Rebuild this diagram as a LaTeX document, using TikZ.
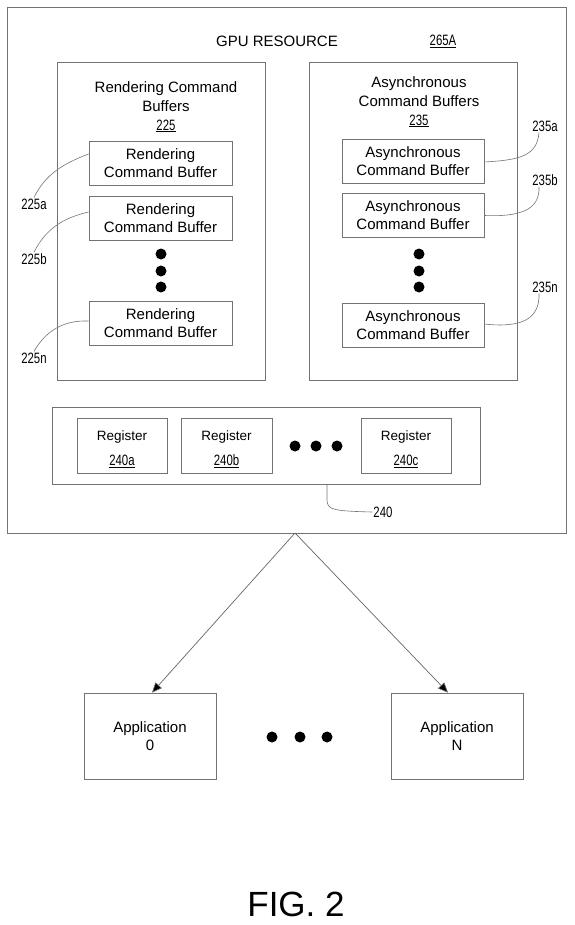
\documentclass[tikz,border=0pt]{standalone}
\usepackage{fontspec}
\setmainfont{Liberation Sans}
\usetikzlibrary{arrows.meta,calc}
\newcommand{\narrow}[1]{\scalebox{0.76}[1]{#1}}
\begin{document}
\begin{tikzpicture}[x=1pt,y=-1pt,
  frame/.style={draw=black!55,line width=0.7pt,inner sep=0pt},
  cbox/.style={frame,align=center,font=\fontsize{15}{18}\selectfont},
  title/.style={align=center,font=\fontsize{15}{19}\selectfont,inner sep=0pt},
  regt/.style={align=center,font=\fontsize{13.5}{16}\selectfont,inner sep=0pt},
  lbl/.style={font=\fontsize{15}{17}\selectfont,inner sep=1pt},
  lead/.style={draw=black!55,line width=0.6pt},
  dot/.style={circle,fill=black,minimum size=11pt,inner sep=0pt},
  arr/.style={draw=black!60,line width=0.7pt,-{Triangle[length=10pt,width=8.5pt,fill=black]}}
]
\useasboundingbox (0,0) rectangle (574,925);
% outer
\node[frame,minimum width=559pt,minimum height=526pt] (outer) at (286.5,270) {};
\node[title] (gpu) at (277,41) {GPU RESOURCE};
\node[title] (ref) at (443,41) {\underline{\narrow{265A}}};
% left container
\node[frame,minimum width=208pt,minimum height=318pt] (left) at (161,221) {};
\node[title,anchor=north] (ltitle) at (166,81) {Rendering Command\\Buffers\\\underline{\narrow{225}}};
\node[cbox,minimum width=143pt,minimum height=44pt] (r1) at (160.5,163) {Rendering\\Command Buffer};
\node[cbox,minimum width=143pt,minimum height=44pt] (r2) at (160.5,218) {Rendering\\Command Buffer};
\node[cbox,minimum width=143pt,minimum height=44pt] (rn) at (160.5,323.5) {Rendering\\Command Buffer};
\node[dot] (rd1) at (161,254) {};
\node[dot] (rd2) at (161,271) {};
\node[dot] (rd3) at (161,287) {};
% right container
\node[frame,minimum width=208pt,minimum height=318pt] (right) at (413,221) {};
\node[title,anchor=north] (rtitle) at (419,76) {Asynchronous\\Command Buffers\\\underline{\narrow{235}}};
\node[cbox,minimum width=142pt,minimum height=44pt] (a1) at (413,161) {Asynchronous\\Command Buffer};
\node[cbox,minimum width=142pt,minimum height=44pt] (a2) at (413,215.5) {Asynchronous\\Command Buffer};
\node[cbox,minimum width=142pt,minimum height=44pt] (an) at (413,325.5) {Asynchronous\\Command Buffer};
\node[dot] (ad1) at (419,254) {};
\node[dot] (ad2) at (419,271) {};
\node[dot] (ad3) at (419,287) {};
% labels left
\node[lbl] (l225a) at (34,204) {\narrow{225a}};
\node[lbl] (l225b) at (34,259) {\narrow{225b}};
\node[lbl] (l225n) at (34,358) {\narrow{225n}};
\draw[lead] ([yshift=9]r1.west) .. controls (62,164) and (45,175) .. (l225a.north);
\draw[lead] ([yshift=6]r2.west) .. controls (62,218) and (45,230) .. (l225b.north);
\draw[lead] ([yshift=2.5]rn.west) .. controls (62,320) and (45,332) .. (l225n.north);
% labels right
\node[lbl] (l235a) at (545,126) {\narrow{235a}};
\node[lbl] (l235b) at (545,180) {\narrow{235b}};
\node[lbl] (l235n) at (545,287) {\narrow{235n}};
\draw[lead] ([yshift=-1]a1.east) .. controls (520,160) and (537,156) .. ([xshift=-6]l235a.south);
\draw[lead] (a2.east) .. controls (520,217) and (540,210) .. ([xshift=-6]l235b.south);
\draw[lead] ([yshift=1.5]an.east) .. controls (520,328) and (540,320) .. ([xshift=-6]l235n.south);
% registers
\node[frame,minimum width=428pt,minimum height=77pt] (regs) at (266,445.5) {};
\node[frame,minimum width=90pt,minimum height=55pt] (ra) at (122,445.5) {};
\node[frame,minimum width=91pt,minimum height=55pt] (rb) at (226.5,445.5) {};
\node[frame,minimum width=90pt,minimum height=55pt] (rc) at (406,445.5) {};
\node[regt] (rat) at (122,437) {Register};
\node[regt] (ran) at (122,461) {\underline{\narrow{\fontsize{15}{17}\selectfont 240a}}};
\node[regt] (rbt) at (226.5,437) {Register};
\node[regt] (rbn) at (226.5,461) {\underline{\narrow{\fontsize{15}{17}\selectfont 240b}}};
\node[regt] (rct) at (406,437) {Register};
\node[regt] (rcn) at (406,461) {\underline{\narrow{\fontsize{15}{17}\selectfont 240c}}};
\node[dot] (gd1) at (295,446) {};
\node[dot] (gd2) at (316,446) {};
\node[dot] (gd3) at (337,446) {};
\node[lbl] (l240) at (383,512) {\narrow{240}};
\coordinate (c240) at (327,484);
\draw[lead] (c240) -- (327,500) .. controls (327,510) and (334,511) .. (l240.west);
% applications
\node[cbox,minimum width=132pt,minimum height=86pt] (app0) at (150,736) {Application\\0};
\node[cbox,minimum width=132pt,minimum height=86pt] (appN) at (457,736) {Application\\N};
\node[dot] (pd1) at (272,737) {};
\node[dot] (pd2) at (300,737) {};
\node[dot] (pd3) at (327,737) {};
\coordinate (apex) at (295,533);
\draw[arr] (apex) -- ([xshift=2]app0.north);
\draw[arr] (apex) -- ([xshift=-9]appN.north);
% caption
\node[inner sep=0pt,font=\fontsize{35}{40}\selectfont] (fig) at (296,904) {FIG. 2};
\end{tikzpicture}
\end{document}
